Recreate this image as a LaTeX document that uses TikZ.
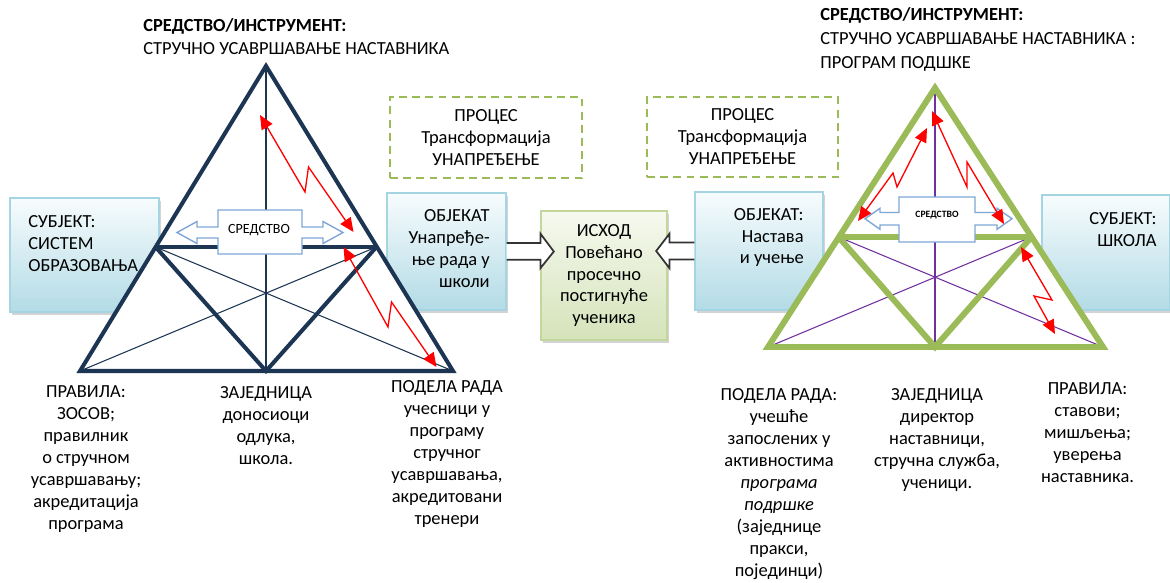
\documentclass[tikz,border=0pt]{standalone}
\usepackage{fontspec}
\setmainfont{Carlito}
\usetikzlibrary{arrows.meta,shadows}

\definecolor{navy}{HTML}{1C3553}
\definecolor{olive}{HTML}{9BBB59}
\definecolor{trviolet}{HTML}{7030A0}
\definecolor{steel}{HTML}{7FA6D6}
\definecolor{aquaedge}{HTML}{A5D5E2}
\definecolor{aquatop}{HTML}{F7FCFD}
\definecolor{aquafill}{HTML}{B3DBE6}
\definecolor{leafedge}{HTML}{C3D69B}
\definecolor{leaftop}{HTML}{F6F9EF}
\definecolor{leaffill}{HTML}{D5E3BA}

\begin{document}
\begin{tikzpicture}[x=0.02cm,y=-0.02cm,
  txt/.style={inner sep=0pt,align=center,font=\fontsize{10.5}{12.5}\selectfont},
  aquabox/.style={draw=aquaedge,line width=0.6pt,top color=aquatop,bottom color=aquafill,
    drop shadow={shadow xshift=1.3pt,shadow yshift=-1.5pt,opacity=0.35}},
  leafbox/.style={draw=leafedge,line width=0.6pt,top color=leaftop,bottom color=leaffill,
    drop shadow={shadow xshift=1.3pt,shadow yshift=-1.5pt,opacity=0.35}},
  procbox/.style={draw=olive,line width=1.1pt,dash pattern=on 4.5pt off 3pt},
  navythick/.style={draw=navy,line width=2.3pt},
  navythin/.style={draw=navy,line width=0.6pt},
  olivethick/.style={draw=olive,line width=3.4pt},
  violetthin/.style={draw=trviolet,line width=0.6pt},
  callout/.style={draw=steel,fill=white,line width=0.8pt},
  zigarrow/.style={draw=red,line width=0.75pt,{Triangle[length=8pt,width=7pt]}-{Triangle[length=8pt,width=7pt]}},
  blockarr/.style={draw=black!80,fill=white,line width=1pt}]

  \useasboundingbox (0,0) rectangle (1170,582);

  % boxes

  \node[aquabox,minimum width=2.98cm,minimum height=2.28cm] (subl) at (84.5,255) {};
  \node[txt,anchor=west,align=left] (sublt) at (28,243.3) {СУБЈЕКТ:\\СИСТЕМ\\ОБРАЗОВАЊА};

  \node[aquabox,minimum width=2.38cm,minimum height=2.34cm] (objl) at (446.5,251.5) {};
  \node[txt,anchor=east,align=right] (objlt) at (490,249) {ОБЈЕКАТ\\Унапређе-\\ње рада у\\школи};

  \node[leafbox,txt,minimum width=2.52cm,minimum height=2.58cm] (ishod) at (604,275.5)
    {ИСХОД\\Повећано\\просечно\\постигнуће\\ученика};

  \node[aquabox,minimum width=2.56cm,minimum height=2.36cm] (objr) at (759,251) {};
  \node[txt,anchor=east,align=right] (objrt) at (804,237.5) {ОБЈЕКАТ:\\Настава\\и учење};

  \node[aquabox,minimum width=2.56cm,minimum height=2.30cm] (subr) at (1106,252.5) {};
  \node[txt,anchor=east,align=right] (subrt) at (1157,230) {СУБЈЕКТ:\\ШКОЛА};

  \node[procbox,txt,minimum width=3.84cm,minimum height=1.62cm] (procl) at (486,137.5)
    {ПРОЦЕС\\Трансформација\\УНАПРЕЂЕЊЕ};
  \node[procbox,txt,minimum width=3.82cm,minimum height=1.60cm] (procr) at (742.5,137)
    {ПРОЦЕС\\Трансформација\\УНАПРЕЂЕЊЕ};

  \draw[blockarr] (objl.east) ++(0,-8.4) -- ++(34,0) -- ++(0,-9.3) -- ++(13.3,17.7)
    -- ++(-13.3,16.6) -- ++(0,-8.3) -- ++(-34,0);
  \draw[blockarr] (objr.west) ++(0,-8.4) -- ++(-25,0) -- ++(0,-8.9) -- ++(-13.3,17.3)
    -- ++(13.3,17.2) -- ++(0,-8.6) -- ++(25,0);

  % left triangle

  \coordinate (la) at (266,66);
  \coordinate (lb1) at (80,371);
  \coordinate (lb2) at (453,371);
  \coordinate (lbm) at (266,371);
  \coordinate (lm1) at (155.6,247);
  \coordinate (lm2) at (376.4,247);

  \fill[white] (la) -- (lb1) -- (lb2) -- cycle;
  \draw[navythin] (la) -- (lbm);
  \draw[navythin] (lb1) -- (lm2);
  \draw[navythin] (lb2) -- (lm1);
  \draw[navythick] (lm1) -- (lm2);
  \draw[navythick] (lm1) -- (lbm) -- (lm2);
  \draw[navythick] (la) -- (lb1) -- (lb2) -- cycle;

  \draw[callout] (218,210) -- (302,210) -- (302,227) -- (323,227) -- (323,221.5) -- (343,232.5)
    -- (323,243.5) -- (323,238) -- (302,238) -- (302,254) -- (218,254) -- (218,238)
    -- (197,238) -- (197,243.5) -- (177,232.5) -- (197,221.5) -- (197,227) -- (218,227) -- cycle;
  \node[txt,font=\fontsize{8}{9}\selectfont] (sredl) at (259,230.5) {СРЕДСТВО};

  \draw[zigarrow] (260,115) -- (305,192) -- (308.5,167) -- (353.5,232);
  \draw[zigarrow] (343.5,247) -- (388,327) -- (391.5,302) -- (436.5,367);

  % right triangle

  \coordinate (ra) at (935,88);
  \coordinate (rb1) at (768,347);
  \coordinate (rb2) at (1103,347);
  \coordinate (rbm) at (935,347);
  \coordinate (rm1) at (838.6,237);
  \coordinate (rm2) at (1031.4,237);

  \fill[white] (ra) -- (rb1) -- (rb2) -- cycle;
  \draw[violetthin] (ra) -- (rbm);
  \draw[violetthin] (rb1) -- (rm2);
  \draw[violetthin] (rb2) -- (rm1);
  \draw[olivethick] (rm1) -- (rm2);
  \draw[olivethick] (rm1) -- (rbm) -- (rm2);
  \draw[olivethick] (ra) -- (rb1) -- (rb2) -- cycle;

  \draw[callout] (899,197) -- (975,197) -- (975,212.5) -- (997,212.5) -- (997,208.3) -- (1012,218.7)
    -- (997,229.3) -- (997,225) -- (975,225) -- (975,242) -- (899,242) -- (899,225)
    -- (880,225) -- (880,229.3) -- (865,218.7) -- (880,208.3) -- (880,212.5) -- (899,212.5) -- cycle;
  \node[txt,font=\fontsize{5.5}{7}\selectfont\bfseries] (sredr) at (937,215.5) {СРЕДСТВО};

  \draw[zigarrow] (858,221) -- (893,173) -- (897,187) -- (927,128);
  \draw[zigarrow] (932,111) -- (967,187) -- (967,162) -- (1004,224);
  \draw[zigarrow] (1021,247) -- (1052,300) -- (1034,296) -- (1055,334);

  % labels

  \node[txt,anchor=west,align=left,font=\fontsize{10.5}{13.2}\selectfont] (instl) at (143,36.7)
    {\textbf{СРЕДСТВО/ИНСТРУМЕНТ:}\\СТРУЧНО УСАВРШАВАЊЕ НАСТАВНИКА};
  \node[txt,anchor=west,align=left,font=\fontsize{10.5}{13.6}\selectfont] (instr) at (820,39.4)
    {\textbf{СРЕДСТВО/ИНСТРУМЕНТ:}\\СТРУЧНО УСАВРШАВАЊЕ НАСТАВНИКА :\\ПРОГРАМ ПОДШКЕ};

  \node[txt] (pravl) at (86,459) {ПРАВИЛА:\\ЗОСОВ;\\правилник\\о стручном\\усавршавању;\\акредитација\\програма};
  \node[txt] (zajl) at (266,426) {ЗАЈЕДНИЦА\\доносиоци\\одлука,\\школа.};
  \node[txt] (podl) at (447,454) {ПОДЕЛА РАДА\\учесници у\\програму\\стручног\\усавршавања,\\акредитовани\\тренери};

  \node[txt] (podr) at (779,484) {ПОДЕЛА РАДА:\\учешће\\запослених у\\активностима\\\textit{програма}\\\textit{подршке}\\(заједнице\\пракси,\\појединци)};
  \node[txt] (zajr) at (937,440) {ЗАЈЕДНИЦА\\директор\\наставници,\\стручна служба,\\ученици.};
  \node[txt] (pravr) at (1087.5,432.5) {ПРАВИЛА:\\ставови;\\мишљења;\\уверења\\наставника.};

\end{tikzpicture}
\end{document}
